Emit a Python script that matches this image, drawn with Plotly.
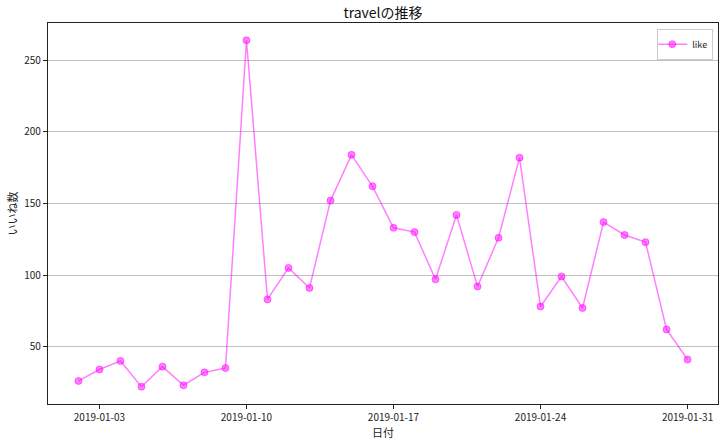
import plotly.graph_objects as go
import pandas as pd

dates = pd.date_range("2019-01-02", "2019-01-31", freq="D")
likes = [26, 34, 40, 22, 36, 23, 32, 35, 264, 83, 105, 91, 152, 184, 162, 133,
         130, 97, 142, 92, 126, 182, 78, 99, 77, 137, 128, 123, 62, 41]
tick_dates = ["2019-01-03", "2019-01-10", "2019-01-17", "2019-01-24", "2019-01-31"]
y_ticks = [50, 100, 150, 200, 250]

FONT = "Noto Sans CJK JP"

fig = go.Figure()
fig.add_trace(go.Scatter(
    x=dates, y=likes, mode="lines+markers", name="like",
    line=dict(color="rgba(255,0,255,0.5)", width=1.5),
    marker=dict(size=7, color="rgba(255,0,255,0.5)",
                line=dict(color="rgba(255,0,255,0.5)", width=1)),
))

span = (dates[-1] - dates[0]) * 0.05
ymin, ymax = min(likes), max(likes)
ym = (ymax - ymin) * 0.05

fig.update_layout(
    width=728, height=442,
    margin=dict(l=48, r=10, t=23, b=38, autoexpand=False),
    paper_bgcolor="white", plot_bgcolor="white",
    font=dict(family=FONT, color="#222222", size=10),
    title=dict(text="travelの推移", x=0.5, xref="paper", y=1 - 13 / 442, yref="container",
               xanchor="center", yanchor="middle", pad=dict(t=0, b=0),
               font=dict(size=14, family=FONT, color="#111111")),
    showlegend=True,
    legend=dict(x=0.993, y=0.985, xanchor="right", yanchor="top",
                bgcolor="white", bordercolor="#cccccc", borderwidth=1,
                font=dict(size=9, family=FONT), itemwidth=30,
                tracegroupgap=0, indentation=-6),
    xaxis=dict(
        range=[dates[0] - span, dates[-1] + span],
        tickmode="array", tickvals=pd.to_datetime(tick_dates), ticktext=tick_dates,
        showgrid=False, showline=True, linecolor="#222222", linewidth=1.2, mirror=True,
        ticks="outside", ticklen=4, tickcolor="#222222", automargin=False,
        title=dict(text="日付", font=dict(size=11, family=FONT), standoff=2),
        tickfont=dict(size=10, family=FONT),
    ),
    yaxis=dict(
        range=[ymin - ym, ymax + ym],
        tickmode="array", tickvals=y_ticks,
        showgrid=True, gridcolor="#c0c0c0", gridwidth=1,
        zeroline=False, automargin=False,
        showline=True, linecolor="#222222", linewidth=1.2, mirror=True,
        ticks="outside", ticklen=4, tickcolor="#222222",
        title=dict(text="いいね数", font=dict(size=11, family=FONT), standoff=4),
        tickfont=dict(size=10, family=FONT),
    ),
)

fig.write_html("out.html", config={"displayModeBar": False},
               post_script="document.body.style.margin='0';")
